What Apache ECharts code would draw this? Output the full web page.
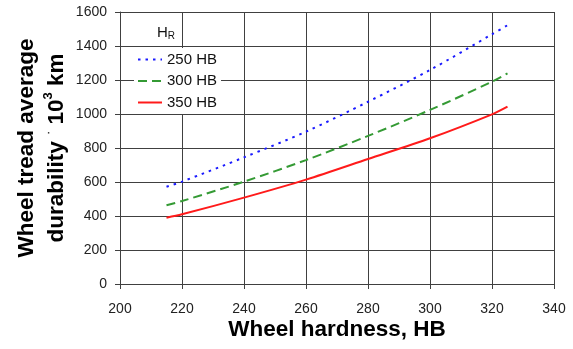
<!DOCTYPE html>
<html>
<head>
<meta charset="utf-8">
<script src="https://cdn.jsdelivr.net/npm/echarts@6/dist/echarts.min.js"></script>
<style>
  html, body { margin: 0; padding: 0; background: #fff; }
  #chart { width: 573px; height: 349px; }
</style>
</head>
<body>
<div id="chart"></div>
<script>
// Wheel hardness (HB) at which each curve is sampled
const hardness = [215, 220, 240, 260, 280, 300, 320, 325];

// Average tread durability, thousands of km, for each rail hardness H_R
const durability250 = [572, 602, 745, 896, 1072, 1259, 1469, 1522];
const durability300 = [463, 488, 602, 729, 871, 1024, 1190, 1239];
const durability350 = [390, 410, 508, 614, 735, 857, 998, 1043];

const seriesNames = ['250 HB', '300 HB', '350 HB'];
const xTicks = { min: 200, max: 340, step: 20 };
const yTicks = { min: 0, max: 1600, step: 200 };

const FONT = '"Liberation Sans", Arial, sans-serif';
const GRID_COLOR = '#404040';

function pairs(values) {
  return hardness.map((h, i) => [h, values[i]]);
}

const chart = echarts.init(document.getElementById('chart'), null, { renderer: 'canvas' });

chart.setOption({
  backgroundColor: '#fff',
  animation: false,
  textStyle: { fontFamily: FONT },
  grid: { left: 120, right: 19, top: 12, bottom: 65, containLabel: false },
  title: {
    text: '{h|H}{r|R}',
    left: 157,
    top: 25,
    padding: 0,
    textStyle: {
      fontWeight: 'normal',
      rich: {
        h: { fontSize: 15, color: '#111', fontFamily: FONT, fontWeight: 'normal' },
        r: { fontSize: 10, color: '#111', fontFamily: FONT, fontWeight: 'normal', padding: [6, 0, 0, 0] }
      }
    }
  },
  legend: {
    data: seriesNames,
    orient: 'vertical',
    left: 134,
    top: 48,
    backgroundColor: '#fff',
    padding: [4, 4, 4, 3],
    itemWidth: 24,
    itemHeight: 14,
    itemGap: 6.5,
    itemStyle: { opacity: 0 },
    textStyle: { fontSize: 15, color: '#111', fontFamily: FONT, lineHeight: 15 }
  },
  xAxis: {
    type: 'value',
    min: xTicks.min,
    max: xTicks.max,
    interval: xTicks.step,
    name: 'Wheel hardness, HB',
    nameLocation: 'middle',
    nameGap: 34,
    nameMoveOverlap: false,
    nameTextStyle: { fontSize: 22.5, fontWeight: 'bold', color: '#000', fontFamily: FONT },
    axisLine: { show: true, lineStyle: { color: GRID_COLOR, width: 1 } },
    axisTick: { show: true, inside: false, length: 5, lineStyle: { color: GRID_COLOR } },
    axisLabel: { fontSize: 14, color: '#222', margin: 18, fontFamily: FONT },
    splitLine: { show: true, lineStyle: { color: GRID_COLOR, width: 1 } }
  },
  yAxis: {
    type: 'value',
    min: yTicks.min,
    max: yTicks.max,
    interval: yTicks.step,
    name: '{t|Wheel tread average}\n{t|durability }{d|·}{t| 10}{s|3}{t| km}',
    nameLocation: 'middle',
    nameRotate: 90,
    nameGap: 48,
    nameMoveOverlap: false,
    nameTextStyle: {
      fontSize: 22.5, fontWeight: 'bold', color: '#000', fontFamily: FONT, lineHeight: 30,
      rich: {
        t: { fontSize: 22.5, fontWeight: 'bold', color: '#000', fontFamily: FONT, lineHeight: 30 },
        s: { fontSize: 13, fontWeight: 'bold', color: '#000', fontFamily: FONT, lineHeight: 13, verticalAlign: 'top' },
        d: { fontSize: 13, fontWeight: 'normal', color: '#000', fontFamily: FONT, lineHeight: 13, verticalAlign: 'top' }
      }
    },
    axisLine: { show: true, lineStyle: { color: GRID_COLOR, width: 1 } },
    axisTick: { show: true, inside: false, length: 5, lineStyle: { color: GRID_COLOR } },
    axisLabel: { fontSize: 14, color: '#222', margin: 13, fontFamily: FONT, formatter: (v) => String(v) },
    splitLine: { show: true, lineStyle: { color: GRID_COLOR, width: 1 } }
  },
  series: [
    {
      name: seriesNames[0],
      type: 'line',
      data: pairs(durability250),
      smooth: 0.3,
      symbol: 'none',
      lineStyle: { color: '#1a1aff', width: 2, type: [2.5, 5] },
      itemStyle: { color: '#1a1aff' }
    },
    {
      name: seriesNames[1],
      type: 'line',
      data: pairs(durability300),
      smooth: 0.3,
      symbol: 'none',
      lineStyle: { color: '#349a34', width: 2, type: [9, 5] },
      itemStyle: { color: '#349a34' }
    },
    {
      name: seriesNames[2],
      type: 'line',
      data: pairs(durability350),
      smooth: 0.3,
      symbol: 'none',
      lineStyle: { color: '#ff1a1a', width: 2, type: 'solid' },
      itemStyle: { color: '#ff1a1a' }
    }
  ]
});
</script>
</body>
</html>
